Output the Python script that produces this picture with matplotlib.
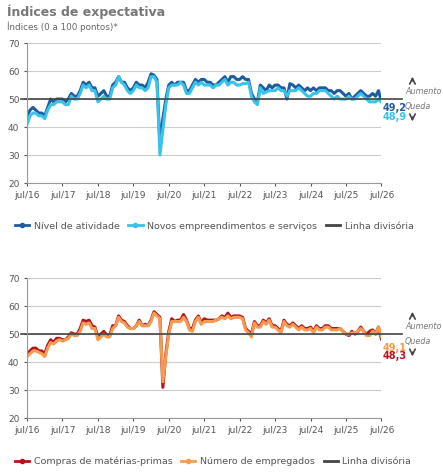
import numpy as np
import matplotlib.pyplot as plt
from matplotlib.lines import Line2D

# monthly values, jul/16 .. jul/26
nivel = [44, 46, 47, 46, 45, 45, 44, 47, 50, 49, 50, 50,
         50, 49, 50, 52, 51, 51, 53, 56, 55, 56, 54, 54,
         51, 52, 53, 51, 51, 55, 56, 58, 56, 56, 54, 53,
         54, 56, 55, 55, 54, 56, 59, 58.5, 57, 34, 43, 50,
         55, 56, 55, 56, 56, 56, 53, 53, 55, 57, 56, 57,
         57, 56, 56, 55, 55, 56, 57, 58, 56, 58, 58, 57,
         57, 58, 57, 57, 52, 50, 49, 55, 54, 53, 55, 54,
         55, 55, 54, 54, 50, 55.5, 55, 54, 55, 54, 53, 54,
         53, 54, 53, 54, 54, 54, 53, 53, 52, 53, 53, 52,
         51, 52, 50, 51, 52, 53, 52, 51, 51, 52, 51, 53,
         49.2]
novos = [41, 44, 45, 45, 44, 44, 43, 46, 48, 48, 49, 49,
         49, 48, 48, 51, 50, 50, 52, 55, 54, 55, 53, 53,
         49, 50, 51, 50, 50, 54, 55, 58, 56, 55, 53, 52,
         53, 55, 54, 54, 53, 54, 58, 58, 56, 30, 39, 48,
         54, 55, 55, 55, 56, 55, 52, 52, 54, 56, 55, 56,
         55, 55, 55, 54, 55, 55, 56, 57, 55, 56, 56, 55,
         55, 55.5, 55.5, 56, 51, 49, 48, 54, 52, 52.5, 53, 53,
         53, 54, 53, 53, 51, 53, 53, 53, 54, 53, 52, 51,
         51, 52, 52, 53, 53, 53, 52, 51, 50, 51, 50, 50,
         50, 51, 50, 50, 51, 52, 51, 50, 49, 49, 49, 50,
         48.9]
compras = [43, 44, 45, 45, 44, 44, 43, 46, 48, 47, 48.5, 48.5,
           48, 48, 49, 50.5, 50, 50, 52, 55, 54.5, 55, 53, 52.5,
           49, 50, 51, 49.5, 49.5, 53, 53, 56.5, 55, 54.5, 53, 52,
           52, 53, 55, 53, 53.5, 53, 55, 58, 57, 56, 31, 43,
           51, 55.5, 54.5, 55, 55, 57, 55, 52, 52, 55, 56.5, 54,
           55.5, 55, 55, 55, 55, 55.5, 56.5, 56, 57.5, 56, 56.5, 56.5,
           56.5, 56, 52, 51, 50, 54.5, 53, 53, 55, 54, 55.5, 53,
           53, 52, 51, 55, 53.5, 53, 54, 53, 52, 53, 52, 52,
           52.5, 51, 53, 52, 52, 53, 53, 52, 52, 52, 52, 51,
           50, 49.5, 51, 50, 51, 52.5, 51, 50, 51, 51.5, 50, 52.5,
           48.3]
empregados = [42, 43, 44, 44, 43.5, 43, 42, 45, 47, 46.5, 47.5, 48,
              47.5, 48, 48.5, 50, 49.5, 49.5, 51, 54, 53.5, 54, 52, 52,
              48, 49, 50, 49, 49, 52, 53, 56, 54.5, 54, 52.5, 52,
              52, 53, 54.5, 53, 53, 53, 54.5, 57.5, 56.5, 55.5, 33, 42,
              50, 54.5, 54.5, 54.5, 54.5, 56, 54.5, 51.5, 51, 54.5, 56, 53.5,
              54.5, 54.5, 54.5, 54.5, 55, 55.5, 56, 55.5, 56.5, 55.5, 56, 56,
              56, 55.5, 51.5, 50.5, 49, 54, 52.5, 52.5, 54.5, 53.5, 55, 52.5,
              52.5, 51.5, 50.5, 54.5, 53, 52.5, 53.5, 52.5, 51.5, 52.5, 51.5, 51.5,
              52, 50.5, 52.5, 51.5, 51.5, 52.5, 52.5, 51.5, 51.5, 51.5, 52, 51,
              50, 50, 50.5, 50.5, 51, 52, 51, 49.5, 49.5, 51, 50, 52.5,
              49.1]
tick_labels = ['jul/16', 'jul/17', 'jul/18', 'jul/19', 'jul/20', 'jul/21',
               'jul/22', 'jul/23', 'jul/24', 'jul/25', 'jul/26']

x = np.arange(len(nivel))
grid_c = '#cccccc'
txt_c = '#555555'

fig = plt.figure(figsize=(4.43, 4.73), dpi=100)
fig.text(0.015, 0.975, 'Índices de expectativa', fontsize=9, fontweight='bold',
         color='#777777', va='center')
fig.text(0.015, 0.943, 'Índices (0 a 100 pontos)*', fontsize=6.3, color='#666666', va='center')


def setup(ax, s1, s2, c1, c2, lab1, lab2):
    ax.plot(x, s1, color=c1, lw=2.2)
    ax.plot(x, s2, color=c2, lw=2.2)
    ax.plot([-2, 127], [50, 50], color='#444444', lw=1.2, clip_on=False)
    ax.set_xlim(0, 120)
    ax.set_ylim(20, 70)
    ax.set_yticks(range(20, 71, 10))
    ax.set_xticks(range(0, 121, 12))
    ax.set_xticklabels(tick_labels)
    ax.grid(axis='y', color=grid_c, lw=0.8)
    ax.set_axisbelow(True)
    for s in ['top', 'right']:
        ax.spines[s].set_visible(False)
    ax.spines['left'].set_color('#999999')
    ax.spines['bottom'].set_color('#999999')
    ax.tick_params(labelsize=6.5, colors=txt_c, length=2)
    for y, t, c in (lab1, lab2):
        ax.text(120.5, y, t, color=c, fontsize=7, fontweight='bold', va='center')
    ax.text(128, 52.6, 'Aumento', fontsize=5.8, style='italic', color='#777777', va='center')
    ax.text(128, 47.2, 'Queda', fontsize=5.8, style='italic', color='#777777', va='center')
    ax.annotate('', xy=(130.5, 59), xytext=(130.5, 55.5), annotation_clip=False,
                arrowprops=dict(arrowstyle='->', color='#444444', lw=1.2))
    ax.annotate('', xy=(130.5, 41), xytext=(130.5, 44.5), annotation_clip=False,
                arrowprops=dict(arrowstyle='->', color='#444444', lw=1.2))


ax1 = fig.add_axes([0.061, 0.613, 0.8, 0.296])
setup(ax1, nivel, novos, '#1f5c9e', '#38c3ea',
      (46.8, '49,2', '#1f5c9e'), (43.6, '48,9', '#38c3ea'))
ax2 = fig.add_axes([0.061, 0.116, 0.8, 0.296])
setup(ax2, compras, empregados, '#b0161e', '#f59a50',
      (45.2, '49,1', '#f59a50'), (42.2, '48,3', '#b0161e'))

for y, c1, c2, n1, n2 in [(0.522, '#1f5c9e', '#38c3ea', 'Nível de atividade',
                           'Novos empreendimentos e serviços'),
                          (0.025, '#b0161e', '#f59a50', 'Compras de matérias-primas',
                           'Número de empregados')]:
    h = [Line2D([], [], color=c1, lw=2, marker='o', ms=3),
         Line2D([], [], color=c2, lw=2, marker='o', ms=3),
         Line2D([], [], color='#444444', lw=2)]
    fig.legend(h, [n1, n2, 'Linha divisória'], loc='center left', bbox_to_anchor=(0.015, y),
               ncol=3, frameon=False, fontsize=6.8, labelcolor='#555555', handlelength=1.5,
               columnspacing=0.9, handletextpad=0.5)

fig.savefig('out.png', dpi=100)
